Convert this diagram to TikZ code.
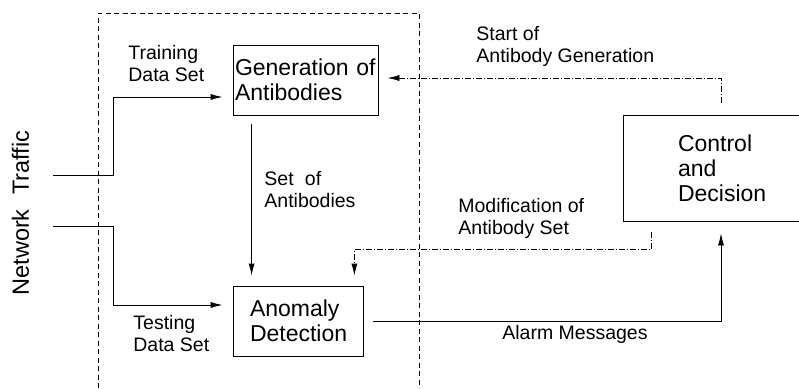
\documentclass[tikz,border=0pt]{standalone}
\usepackage{fontspec}
\setmainfont{Liberation Sans}
\usetikzlibrary{%
		arrows.meta%
		,positioning%
	}

\begin{document}
\begin{tikzpicture}[x=1pt,y=-1pt,line width=0.8pt,
		box/.style={draw,align=left,font=\fontsize{23}{25}\selectfont,inner sep=0pt},
		lbl/.style={align=left,anchor=north west,inner sep=0pt,font=\fontsize{19.5}{21.5}\selectfont},
		arr/.style={-{Latex[length=12pt,width=6pt]}},
		dashdot/.style={dash pattern=on 6pt off 2pt on 1pt off 2pt},
	]
			\useasboundingbox (0,0) rectangle (799,388);
			\draw[dash pattern=on 5pt off 3.5pt] (98,388) -- (98,13) -- (419,13) -- (419,388);

			\node[box,minimum width=145pt,minimum height=70pt,text width=141pt] (gen) at (305.5,80) {Generation of\\Antibodies};
			\node[box,minimum width=130pt,minimum height=70pt,text width=96pt] (ano) at (298,321) {Anomaly\\Detection};
			\node[box,minimum width=196pt,minimum height=106pt,text width=86pt] (ctrl) at (721,168) {Control\\and\\Decision};

			\node[rotate=90,font=\fontsize{23.5}{25}\selectfont,inner sep=0pt] (net) at (20.5,213) {Network\hspace{0.35em} Traffic};
			\coordinate (trnin) at (53,175);
			\coordinate (tstin) at (53,226);

			\draw[arr] (trnin) -- ++(60,0) |- ([shift={(-10pt,-17pt)}]gen.west);
			\draw[arr] (tstin) -- ++(60,0) |- ([shift={(-10pt,16pt)}]ano.west);
			\draw[arr,shorten <=9pt,shorten >=10pt] ([xshift=19pt]gen.south west) -- ([xshift=19pt]ano.north west);
			\draw[arr,shorten <=10pt,shorten >=12pt] (ano.east) -| (ctrl.south);
			\draw[arr,dashdot,shorten <=12pt,shorten >=9pt] (ctrl.north) |- ([yshift=2pt]gen.east);
			\draw[arr,dashdot,shorten <=11pt,shorten >=10pt] ([xshift=29pt]ctrl.south west) -- ++(0,28) -| ([xshift=-9pt]ano.north east);

			\node[lbl] (trnlbl) at (128,45) {Training\\Data Set};
			\node[lbl] (tstlbl) at (133,315) {Testing\\Data Set};
			\node[lbl] (setlbl) at (264,171) {Set\hspace{0.3em} of\\Antibodies};
			\node[lbl] (startlbl) at (476,26) {Start of\\Antibody Generation};
			\node[lbl] (modlbl) at (458,198) {Modification of\\Antibody Set};
			\node[lbl] (alarmlbl) at (502,325) {Alarm Messages};
		\end{tikzpicture}
\end{document}
